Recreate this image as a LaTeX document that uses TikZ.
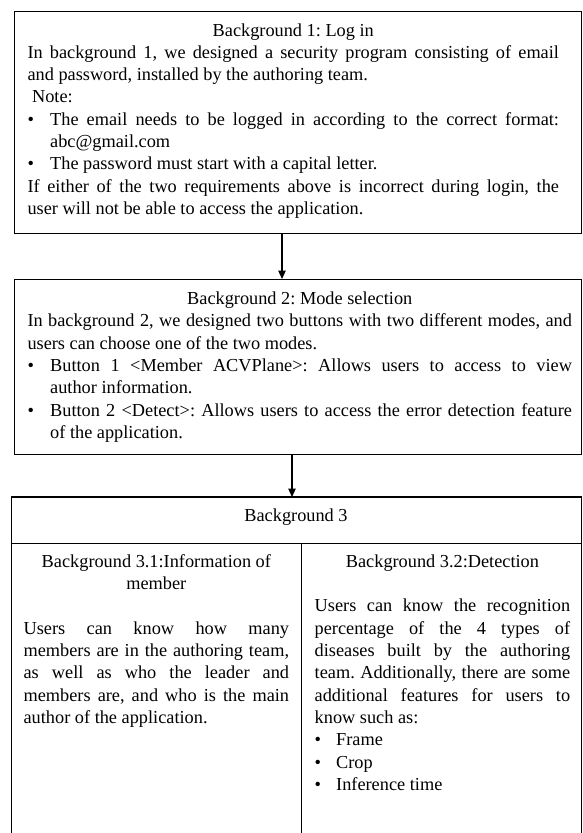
\documentclass[tikz,border=0pt]{standalone}
\usepackage{fontspec}
\setmainfont{Liberation Serif}
\usetikzlibrary{arrows.meta}
\newcommand\bitem[2][22.7pt]{\par\hangindent=#1\hangafter=1\noindent\hbox to #1{\textbullet\hss}#2\par}
\newcommand\txtblock[2]{\vtop{\hsize=#1\relax\frenchspacing\parindent=0pt\parskip=0pt\leftskip=0pt\rightskip=0pt\tolerance=10000\hbadness=10000\hyphenpenalty=10000\exhyphenpenalty=10000 #2}}
\begin{document}
\begin{tikzpicture}[x=1pt,y=-1pt,
  font=\fontsize{18.3pt}{22.3pt}\selectfont,
  boxline/.style={draw=black,line width=1.2pt},
  flowbox/.style={boxline,inner sep=0pt,anchor=north west},
  txt/.style={inner sep=0pt,anchor=base west,text=black},
  flowarrow/.style={line width=1.2pt,-{Triangle[length=8.5pt,width=7.5pt]}}]
\useasboundingbox (0,0) rectangle (582,833);
\fill[white] (0,0) rectangle (582,833);

% boxes
\node[flowbox,minimum width=567pt,minimum height=222.3pt] (b1) at (14,10.7) {};
\node[flowbox,minimum width=567pt,minimum height=175pt] (b2) at (14,279) {};
\node[inner sep=0pt,anchor=north west,minimum width=569.3pt,minimum height=341pt] (b3) at (11.7,497) {};
\draw[boxline] (b3.south west) -- (b3.north west) -- (b3.north east) -- (b3.south east);
\coordinate (hdiv) at (0,543.3);
\coordinate (vdiv) at (301.6,0);
\draw[boxline] (b3.west |- hdiv) -- (b3.east |- hdiv);
\draw[boxline] (vdiv |- hdiv) -- (vdiv |- b3.south);

% connectors
\coordinate (ar1) at (282,0);
\coordinate (ar2) at (292,0);
\draw[flowarrow] (ar1 |- b1.south) -- (ar1 |- b2.north);
\draw[flowarrow] (ar2 |- b2.south) -- (ar2 |- b3.north);

% box 1 text
\node[txt] (t1) at (27.3,36) {\txtblock{531.5pt}{%
\centerline{Background 1: Log in}
In background 1, we designed a security program consisting of email\linebreak and password, installed by the authoring team.\par
\hspace*{4.6pt}Note:\par
\bitem{The email needs to be logged in according to the correct format:\linebreak abc@gmail.com}
\bitem{The password must start with a capital letter.}
If either of the two requirements above is incorrect during login, the\linebreak user will not be able to access the application.\par}};

% box 2 text
\node[txt] (t2) at (27.3,304.6) {\txtblock{544.5pt}{%
\centerline{Background 2: Mode selection}
In background 2, we designed two buttons with two different modes, and\linebreak users can choose one of the two modes.\par
\bitem{Button 1 \textless Member ACVPlane\textgreater: Allows users to access to view\linebreak author information.}
\bitem{Button 2 \textless Detect\textgreater: Allows users to access the error detection feature\linebreak of the application.}}};

% box 3 text
\node[inner sep=0pt,anchor=base] (t3) at (296,521) {Background 3};

\node[txt] (t31) at (23.4,567.3) {\txtblock{265.5pt}{%
\centerline{Background 3.1:Information of}
\centerline{member}
\centerline{}
Users can know how many\linebreak members are in the authoring team,\linebreak as well as who the leader and\linebreak members are, and who is the main\linebreak author of the application.\par}};

\node[txt] (t32) at (314.5,567.3) {\txtblock{255.5pt}{%
\centerline{Background 3.2:Detection}
\centerline{}
Users can know the recognition\linebreak percentage of the 4 types of\linebreak diseases built by the authoring\linebreak team. Additionally, there are some\linebreak additional features for users to\linebreak know such as:\par
\bitem[21.5pt]{Frame}
\bitem[21.5pt]{Crop}
\bitem[21.5pt]{Inference time}}};
\end{tikzpicture}
\end{document}
